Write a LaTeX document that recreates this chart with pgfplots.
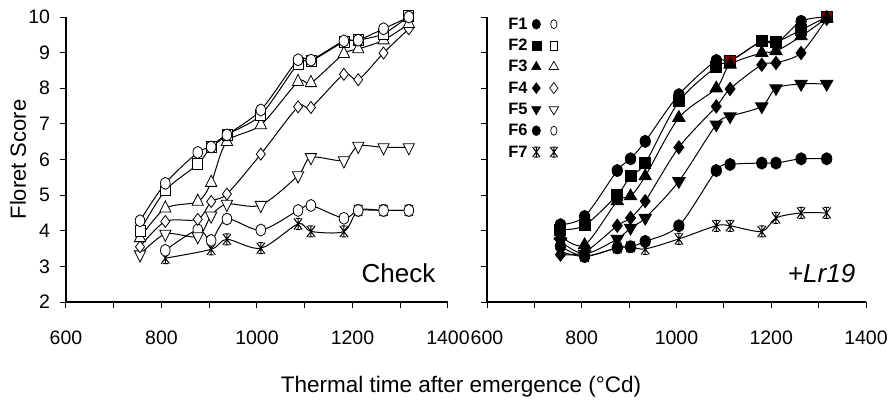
\documentclass[border=0pt]{standalone}
\usepackage{fontspec}
\setmainfont{Liberation Sans}
\usepackage{pgfplots}
\pgfplotsset{compat=1.18}
\definecolor{dkred}{RGB}{128,0,0}

\pgfdeclareplotmark{xlstar}{%
  \pgfpathmoveto{\pgfqpoint{0pt}{-\pgfplotmarksize}}%
  \pgfpathlineto{\pgfqpoint{0pt}{\pgfplotmarksize}}%
  \pgfpathmoveto{\pgfqpoint{-0.75\pgfplotmarksize}{-\pgfplotmarksize}}%
  \pgfpathlineto{\pgfqpoint{0.75\pgfplotmarksize}{\pgfplotmarksize}}%
  \pgfpathmoveto{\pgfqpoint{-0.75\pgfplotmarksize}{\pgfplotmarksize}}%
  \pgfpathlineto{\pgfqpoint{0.75\pgfplotmarksize}{-\pgfplotmarksize}}%
  \pgfpathmoveto{\pgfqpoint{-0.45\pgfplotmarksize}{\pgfplotmarksize}}%
  \pgfpathlineto{\pgfqpoint{0.45\pgfplotmarksize}{\pgfplotmarksize}}%
  \pgfpathmoveto{\pgfqpoint{-0.45\pgfplotmarksize}{-\pgfplotmarksize}}%
  \pgfpathlineto{\pgfqpoint{0.45\pgfplotmarksize}{-\pgfplotmarksize}}%
  \pgfusepathqstroke}

\pgfplotsset{
  panel/.style={
    scale only axis, height=285pt,
    xmin=600, xmax=1400, ymin=2, ymax=10,
    axis lines=left, axis line style={-, line width=1.1pt, black},
    tick align=outside, major tick length=6pt, minor tick length=6pt,
    tick style={black, line width=1pt},
    xtick={600,800,1000,1200,1400}, minor xtick={700,900,1100,1300},
    ytick={2,3,...,10},
    /pgf/number format/assume math mode=true,
    /pgf/number format/1000 sep={},
    ticklabel style={font=\fontsize{19.5}{22}\selectfont},
    xticklabel style={yshift=-19.5pt},
    yticklabel style={xshift=-6.5pt},
    clip=false,
  },
  ln/.style={black, line width=1pt, smooth, tension=0.5},
  oc/.style={ln, mark=*, mark size=6pt, mark options={solid, fill=white, line width=0.8pt, xscale=0.8}},
  os/.style={ln, mark=square*, mark size=5pt, mark options={solid, fill=white, line width=0.8pt, yscale=1.08}},
  ot/.style={ln, mark=triangle*, mark size=6.5pt, mark options={solid, fill=white, line width=0.8pt, yscale=1.15}},
  od/.style={ln, mark=diamond*, mark size=6pt, mark options={solid, fill=white, line width=0.8pt}},
  ov/.style={ln, mark=triangle*, mark size=6.5pt, mark options={solid, fill=white, line width=0.8pt, yscale=1.15, rotate=180}},
  fc/.style={ln, mark=*, mark size=6pt, mark options={solid, fill=black, xscale=0.85}},
  fs/.style={ln, mark=square*, mark size=5.5pt, mark options={solid, fill=black}},
  ft/.style={ln, mark=triangle*, mark size=7pt, mark options={solid, fill=black}},
  fd/.style={ln, mark=diamond*, mark size=6.5pt, mark options={solid, fill=black}},
  fv/.style={ln, mark=triangle*, mark size=7pt, mark options={solid, fill=black, rotate=180}},
  st/.style={ln, mark=xlstar, mark size=5.5pt, mark options={solid, line width=1pt}},
}

% Check (open symbols)
\pgfplotstableread{
x     F1    F2    F3    F4    F5
755   4.28  4.00  3.80  3.55  3.33
808   5.33  5.13  4.63  4.26  3.91
876   6.20  5.87  4.82  4.32  3.84
904   6.35  6.36  5.35  4.82  4.42
937   6.69  6.70  6.50  5.03  4.75
1008  7.39  7.25  6.97  6.15  4.72
1086  8.80  8.69  8.18  7.48  5.55
1113  8.79  8.76  8.15  7.46  6.06
1182  9.33  9.30  8.97  8.39  5.97
1212  9.35  9.35  9.10  8.24  6.38
1265  9.67  9.53  9.35  8.99  6.34
1318  10.0  10.02 9.81  9.67  6.34
}\checkA
\pgfplotstableread{
x     F6    F7
808   3.45  3.23
876   4.03  nan
904   3.73  3.48
937   4.33  3.76
1008  4.02  3.51
1086  4.57  4.19
1113  4.71  3.98
1182  4.35  3.98
1212  4.57  4.57
1265  4.57  4.57
1318  4.57  4.57
}\checkB
% +Lr19 (filled symbols)
\pgfplotstableread{
x     F1    F2    F3    F4    F5    F6    F7
755   4.17  4.03  3.85  3.33  3.70  3.56  3.42
806   4.40  4.15  3.60  3.40  3.35  3.28  3.28
875   5.69  5.01  4.83  4.14  3.77  3.52  3.52
903   6.02  5.53  4.97  4.36  4.08  3.55  3.55
934   6.51  5.90  5.53  4.83  4.36  3.70  3.49
1005  7.82  7.63  7.17  6.34  5.39  4.14  3.77
1084  8.78  8.60  8.00  7.49  6.98  5.69  4.14
1113  8.76  8.76  8.66  7.98  7.21  5.86  4.14
1180  9.32  9.32  8.99  8.66  7.49  5.90  3.98
1210  9.25  9.29  9.04  8.71  8.00  5.90  4.36
1263  9.88  9.64  9.46  8.99  8.12  6.02  4.50
1317  10.0  10.0  9.97  9.95  8.12  6.02  4.50
}\lrtab
\pgfplotstableread{
x     y
1113  8.76
1317  10.0
}\redsq

\begin{document}
\begin{tikzpicture}[x=1pt,y=1pt]
\useasboundingbox (0,0) rectangle (894,410);

\begin{axis}[panel, width=382pt, at={(66pt,108pt)}, anchor=south west,
  ylabel={Floret Score},
  every axis y label/.style={at={(axis description cs:-0.1257,0.5)}, rotate=90, anchor=center, font=\fontsize{22}{24}\selectfont},
  xlabel={Thermal time after emergence (°Cd)},
  every axis x label/.style={at={(axis description cs:1.034,-0.319)}, anchor=base, font=\fontsize{22.5}{24}\selectfont},
]
\addplot[st] table[x=x, y=F7] {\checkB};
\addplot[oc] table[x=x, y=F6] {\checkB};
\addplot[ov] table[x=x, y=F5] {\checkA};
\addplot[od] table[x=x, y=F4] {\checkA};
\addplot[ot] table[x=x, y=F3] {\checkA};
\addplot[os] table[x=x, y=F2] {\checkA};
\addplot[oc] table[x=x, y=F1] {\checkA};
\node[anchor=base east, font=\fontsize{26}{28}\selectfont] at (axis description cs:0.976,0.07) {Check};
\end{axis}

\begin{axis}[panel, width=379pt, at={(487pt,108pt)}, anchor=south west,
  yticklabels={},
  legend columns=2, legend plot pos=right,
  legend style={draw=none, fill=none, inner sep=0pt, at={(axis description cs:0.053,1.0035)}, anchor=north west,
    font=\bfseries\fontsize{16.5}{18}\selectfont, row sep=5.3pt, column sep=3pt,
    nodes={inner sep=1pt, text height=12pt, text depth=2pt}},
  legend cell align=left,
]
\addlegendimage{only marks, mark=*, mark size=5pt, mark options={fill=black, xscale=0.85}}\addlegendentry{F1}
\addlegendimage{only marks, mark=*, mark size=4.5pt, mark options={fill=white, line width=0.7pt, xscale=0.7}}\addlegendentry{\mbox{}}
\addlegendimage{only marks, mark=square*, mark size=4.5pt, mark options={fill=black}}\addlegendentry{F2}
\addlegendimage{only marks, mark=square*, mark size=4.5pt, mark options={fill=white, line width=0.7pt, xscale=0.8}}\addlegendentry{\mbox{}}
\addlegendimage{only marks, mark=triangle*, mark size=5.5pt, mark options={fill=black}}\addlegendentry{F3}
\addlegendimage{only marks, mark=triangle*, mark size=5.5pt, mark options={fill=white, line width=0.7pt}}\addlegendentry{\mbox{}}
\addlegendimage{only marks, mark=diamond*, mark size=5.5pt, mark options={fill=black}}\addlegendentry{F4}
\addlegendimage{only marks, mark=diamond*, mark size=5.5pt, mark options={fill=white, line width=0.7pt}}\addlegendentry{\mbox{}}
\addlegendimage{only marks, mark=triangle*, mark size=5.5pt, mark options={fill=black, rotate=180}}\addlegendentry{F5}
\addlegendimage{only marks, mark=triangle*, mark size=5.5pt, mark options={fill=white, line width=0.7pt, rotate=180}}\addlegendentry{\mbox{}}
\addlegendimage{only marks, mark=*, mark size=5pt, mark options={fill=black, xscale=0.85}}\addlegendentry{F6}
\addlegendimage{only marks, mark=*, mark size=4.5pt, mark options={fill=white, line width=0.7pt, xscale=0.7}}\addlegendentry{\mbox{}}
\addlegendimage{only marks, mark=xlstar, mark size=5pt, mark options={line width=1pt}}\addlegendentry{F7}
\addlegendimage{only marks, mark=xlstar, mark size=5pt, mark options={line width=1pt}}\addlegendentry{\mbox{}}
\addplot[st, forget plot] table[x=x, y=F7] {\lrtab};
\addplot[fc, forget plot] table[x=x, y=F6] {\lrtab};
\addplot[fv, forget plot] table[x=x, y=F5] {\lrtab};
\addplot[fd, forget plot] table[x=x, y=F4] {\lrtab};
\addplot[fc, forget plot] table[x=x, y=F1] {\lrtab};
\addplot[fs, forget plot] table[x=x, y=F2] {\lrtab};
\addplot[only marks, mark=square*, mark size=5.5pt, mark options={fill=dkred, draw=black, line width=1.2pt}, forget plot] table[x=x, y=y] {\redsq};
\addplot[ft, forget plot] table[x=x, y=F3] {\lrtab};
\node[anchor=base east, font=\fontsize{26}{28}\selectfont] at (axis description cs:0.981,0.067) {+\textit{Lr19}};
\end{axis}
\end{tikzpicture}
\end{document}
